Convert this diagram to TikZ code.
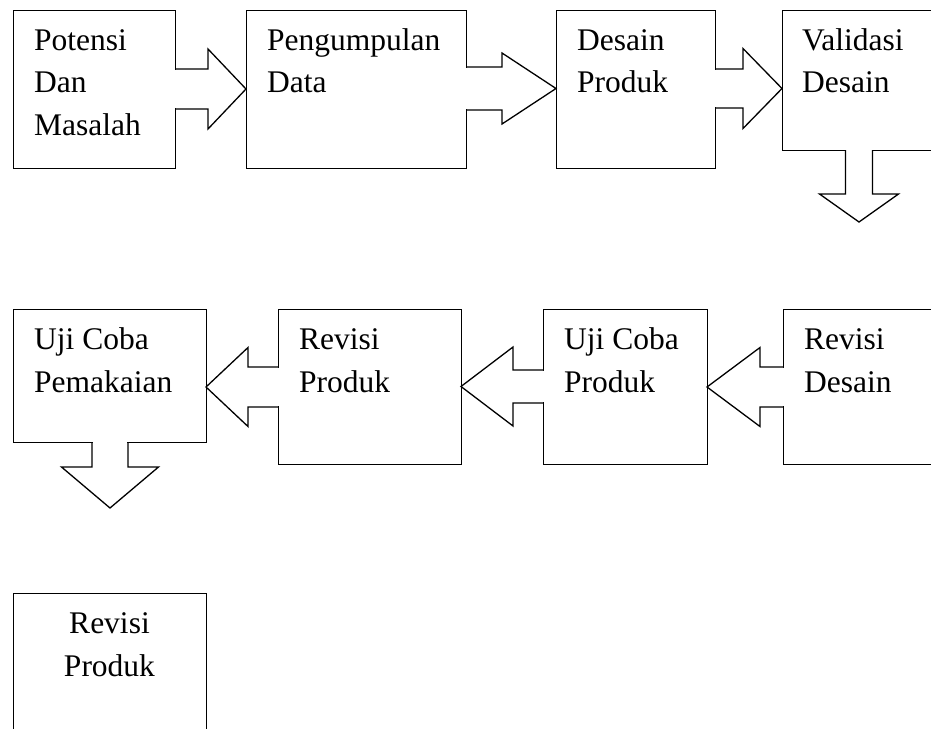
\documentclass[tikz,border=0pt]{standalone}
\usepackage{fontspec}
\newfontfamily\tnr{Liberation Serif}
\newcommand\gapV[3]{% x, y1, y2 : erase vertical box edge between y1 and y2
  \draw[white, line width=2pt] (#1,#2) -- (#1,#3);}
\newcommand\gapH[3]{% y, x1, x2 : erase horizontal box edge between x1 and x2
  \draw[white, line width=2pt] (#2,#1) -- (#3,#1);}
% horizontal block arrow: x0 (box edge), xb (head back), xt (tip), yc, shaft half, head half
\newcommand\blockH[6]{%
  \gapV{#1}{#4-#5+0.65}{#4+#5-0.65}
  \draw[outl] (#1,#4-#5) -- (#2,#4-#5) -- (#2,#4-#6) -- (#3,#4) -- (#2,#4+#6) -- (#2,#4+#5) -- (#1,#4+#5);}
% vertical block arrow: y0 (box edge), yb (head back), yt (tip), xc, shaft half, head half
\newcommand\blockV[6]{%
  \gapH{#1}{#4-#5+0.65}{#4+#5-0.65}
  \draw[outl] (#4-#5,#1) -- (#4-#5,#2) -- (#4-#6,#2) -- (#4,#3) -- (#4+#6,#2) -- (#4+#5,#2) -- (#4+#5,#1);}
\begin{document}
\begin{tikzpicture}[x=1pt,y=-1pt,
  outl/.style={draw=black, line width=1.3pt, line join=miter},
  box/.style={draw=black, line width=1.3pt, inner sep=0pt, anchor=north west},
  txt/.style={anchor=base west, inner sep=0pt, font=\tnr\fontsize{31.5}{42.5}\selectfont},
  ctxt/.style={anchor=base, inner sep=0pt, font=\tnr\fontsize{31.5}{42.5}\selectfont}]
\useasboundingbox (0,0) rectangle (931,728);
\clip (0,0) rectangle (931,728);
% row 1 boxes
\node[box, minimum width=162pt, minimum height=158pt] (b1) at (13,10) {};
\node[box, minimum width=220pt, minimum height=158pt] (b2) at (246,10) {};
\node[box, minimum width=159pt, minimum height=158pt] (b3) at (556,10) {};
\node[box, minimum width=170pt, minimum height=140pt] (b4) at (782,10) {};
% row 2 boxes
\node[box, minimum width=193pt, minimum height=133pt] (b5) at (13,309) {};
\node[box, minimum width=183pt, minimum height=155pt] (b6) at (278,309) {};
\node[box, minimum width=164pt, minimum height=155pt] (b7) at (543,309) {};
\node[box, minimum width=170pt, minimum height=155pt] (b8) at (783,309) {};
% row 3 box
\node[box, minimum width=193pt, minimum height=150pt] (b9) at (13,593) {};
% block arrows
\blockH{175}{208}{246}{89}{20}{40}
\blockH{466}{502}{556}{88.5}{21.5}{35.5}
\blockH{715}{743}{782}{88.5}{19.5}{40}
\blockV{150}{194}{222}{859}{13.5}{39.5}
\blockH{783}{760}{707}{387}{20}{39.5}
\blockH{543}{513}{461}{386.5}{16.5}{39.5}
\blockH{278}{248}{206}{387}{20}{39.5}
\blockV{442}{467}{508}{110}{18}{48.5}
% texts
\node[txt] (t1a) at (34,50) {Potensi};
\node[txt] (t1b) at (34,92.5) {Dan};
\node[txt] (t1c) at (34,135) {Masalah};
\node[txt] (t2a) at (267,50) {Pengumpulan};
\node[txt] (t2b) at (267,92.5) {Data};
\node[txt] (t3a) at (577,50) {Desain};
\node[txt] (t3b) at (577,92.5) {Produk};
\node[txt] (t4a) at (802,50) {Validasi};
\node[txt] (t4b) at (802,92.5) {Desain};
\node[txt] (t5a) at (34,349) {Uji Coba};
\node[txt] (t5b) at (34,392) {Pemakaian};
\node[txt] (t6a) at (299,349) {Revisi};
\node[txt] (t6b) at (299,392) {Produk};
\node[txt] (t7a) at (564,349) {Uji Coba};
\node[txt] (t7b) at (564,392) {Produk};
\node[txt] (t8a) at (804,349) {Revisi};
\node[txt] (t8b) at (804,392) {Desain};
\node[ctxt] (t9a) at (109.5,633) {Revisi};
\node[ctxt] (t9b) at (109.5,676) {Produk};
\end{tikzpicture}
\end{document}
